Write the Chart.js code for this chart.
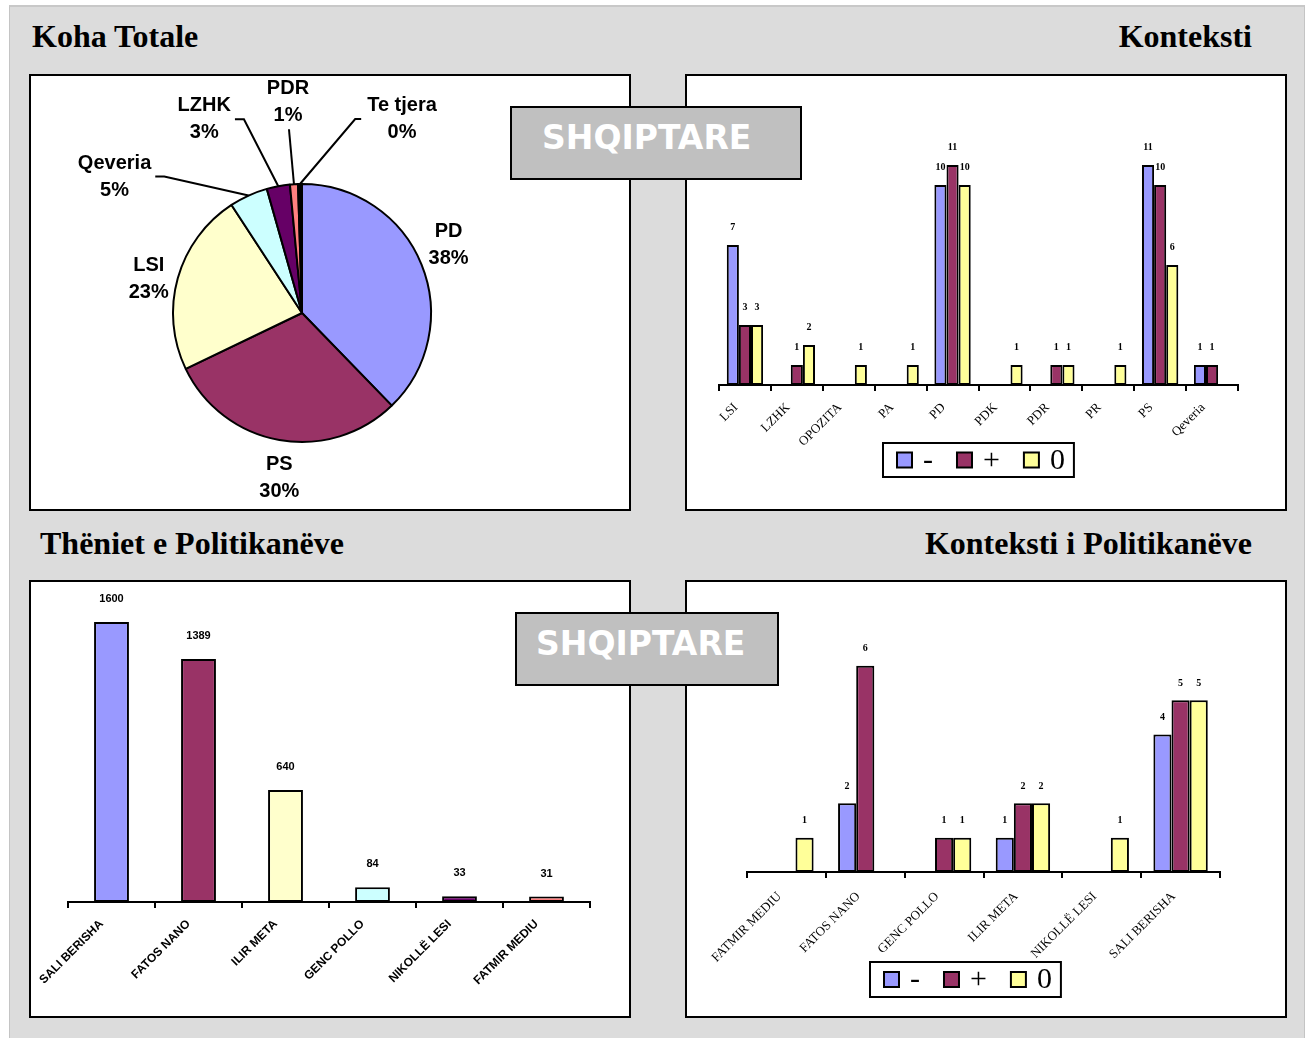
<!DOCTYPE html>
<html><head><meta charset="utf-8">
<script src="https://cdn.jsdelivr.net/npm/chart.js@4.4.1/dist/chart.umd.min.js"></script>
<style>
html,body{margin:0;padding:0;background:#fff;}
body{width:1306px;height:1038px;position:relative;overflow:hidden;}
.slide{position:absolute;left:9px;width:1294px;background:#dcdcdc;border-left:1px solid #c4c4c4;border-right:1px solid #c4c4c4;}
#s1{top:5px;height:505px;border-top:2px solid #c8c8c8;border-bottom:1px solid #c0c0c0}
#s2{top:512px;height:530px;}
.panel{position:absolute;background:#fff;border:2px solid #000;box-sizing:border-box;}
.panel canvas{position:absolute;left:0;top:0;}
.hdr{position:absolute;font:bold 32px 'Liberation Serif','Times New Roman',serif;line-height:32px;white-space:nowrap;color:#000}
.stamp{position:absolute;background:#c0c0c0;border:2px solid #000;box-sizing:border-box;z-index:5}
.stamp span{position:absolute;font:bold 33px 'DejaVu Sans',Verdana,sans-serif;line-height:33px;color:#fff;white-space:nowrap}
</style>
</head><body>
<div class="slide" id="s1"></div>
<div class="slide" id="s2"></div>

<div class="hdr" style="left:32px;top:20px">Koha Totale</div>
<div class="hdr" style="right:54px;top:20px">Konteksti</div>
<div class="hdr" style="left:40px;top:527px">Thëniet e Politikanëve</div>
<div class="hdr" style="right:54px;top:527px">Konteksti i Politikanëve</div>

<div class="panel" style="left:29px;top:74px;width:602px;height:437px"><canvas id="c1" width="598" height="433"></canvas></div>
<div class="panel" style="left:685px;top:74px;width:602px;height:437px"><canvas id="c2" width="598" height="433"></canvas></div>
<div class="panel" style="left:29px;top:580px;width:602px;height:438px"><canvas id="c3" width="598" height="434"></canvas></div>
<div class="panel" style="left:685px;top:580px;width:602px;height:438px"><canvas id="c4" width="598" height="434"></canvas></div>

<div class="stamp" style="left:510px;top:106px;width:292px;height:74px"><span style="left:30px;top:13px">SHQIPTARE</span></div>
<div class="stamp" style="left:515px;top:612px;width:264px;height:74px"><span style="left:19px;top:13px">SHQIPTARE</span></div>

<script>
// ---- Data ----
// Koha Totale (pie, share of time)
const pieLabels = ['PD','PS','LSI','Qeveria','LZHK','PDR','Te tjera'];
const pieValues = [37.7, 30.1, 22.9, 4.8, 2.9, 1.0, 0.49];

// Konteksti
const kontCats = ['LSI','LZHK','OPOZITA','PA','PD','PDK','PDR','PR','PS','Qeveria'];
const kontNeg  = [7, null, null, null, 10, null, null, null, 11, 1];
const kontPos  = [3, 1, null, null, 11, null, 1, null, 10, 1];
const kontZero = [3, 2, 1, 1, 10, 1, 1, 1, 6, null];

const seriesNames = ['-', '+', '0'];

// Thëniet e Politikanëve
const thenCats   = ['SALI BERISHA','FATOS NANO','ILIR META','GENC POLLO','NIKOLLË LESI','FATMIR MEDIU'];
const thenValues = [1600, 1389, 640, 84, 33, 31];

// Konteksti i Politikanëve
const polCats = ['FATMIR MEDIU','FATOS NANO','GENC POLLO','ILIR META','NIKOLLË LESI','SALI BERISHA'];
const polNeg  = [null, 2, null, 1, null, 4];
const polPos  = [null, 6, 1, 2, null, 5];
const polZero = [1, null, 1, 2, 1, 5];

// ---- Styles ----
const pieColors = ['#9999ff','#993366','#ffffcc','#ccffff','#660066','#ff8080','#000000'];
const seriesColors = ['#9999ff','#993366','#ffff99'];
const thenColors = ['#9999ff','#993366','#ffffcc','#ccffff','#660066','#ff8080'];
const pieLabelOffsets = [[27,-20],[0,38],[-29,1],[-134,-19],[-74,-67],[-6,-82],[102,-65]];
const pieLeader = [false,false,false,true,true,true,true];
const SERIF = '"Liberation Serif","Times New Roman",serif';
const SANS = '"Liberation Sans",Arial,sans-serif';

Chart.defaults.animation = false;
Chart.defaults.responsive = false;

const pieLabelPlugin = {
  id: 'pieLabels',
  afterDatasetsDraw(chart) {
    const ctx = chart.ctx;
    const meta = chart.getDatasetMeta(0);
    const data = chart.data.datasets[0].data;
    const total = data.reduce((a, b) => a + b, 0);
    ctx.save();
    ctx.font = 'bold 20px ' + SANS;
    ctx.textAlign = 'center'; ctx.textBaseline = 'middle';
    ctx.fillStyle = '#000'; ctx.strokeStyle = '#000'; ctx.lineWidth = 2;
    meta.data.forEach((arc, i) => {
      const p = arc.getProps(['x','y','startAngle','endAngle','outerRadius'], true);
      const mid = (p.startAngle + p.endAngle) / 2;
      const px = p.x + Math.cos(mid) * p.outerRadius;
      const py = p.y + Math.sin(mid) * p.outerRadius;
      const off = pieLabelOffsets[i];
      const lx = px + off[0], ly = py + off[1];
      const l1 = chart.data.labels[i];
      const l2 = Math.round(data[i] / total * 100) + '%';
      const w = Math.max(ctx.measureText(l1).width, ctx.measureText(l2).width);
      ctx.fillText(l1, lx, ly - 13.5);
      ctx.fillText(l2, lx, ly + 13.5);
      if (pieLeader[i]) {
        ctx.beginPath();
        if (lx < px - 20) {
          const sx = lx + w / 2 + 4;
          ctx.moveTo(sx, ly); ctx.lineTo(sx + 9, ly); ctx.lineTo(px, py);
        } else if (lx > px + 20) {
          const sx = lx - w / 2 - 6;
          ctx.moveTo(sx, ly); ctx.lineTo(sx - 6, ly); ctx.lineTo(px, py);
        } else {
          ctx.moveTo(lx + 1, ly + 27); ctx.lineTo(px, py);
        }
        ctx.stroke();
      }
    });
    ctx.restore();
  }
};

const barLabelPlugin = {
  id: 'barLabels',
  afterDatasetsDraw(chart, args, opts) {
    const ctx = chart.ctx;
    ctx.save();
    ctx.font = opts.labelFont; ctx.fillStyle = '#000';
    ctx.textAlign = 'center'; ctx.textBaseline = 'middle';
    chart.data.datasets.forEach((ds, di) => {
      const meta = chart.getDatasetMeta(di);
      meta.data.forEach((bar, i) => {
        const v = ds.data[i];
        if (v == null) return;
        ctx.fillText(String(v), bar.x, bar.y - opts.offset);
      });
    });
    ctx.restore();
  }
};

const boxLegendPlugin = {
  id: 'boxLegend',
  afterDraw(chart, args, opts) {
    if (!opts || !opts.show) return;
    const ctx = chart.ctx;
    ctx.save();
    ctx.font = opts.labelFont; ctx.textBaseline = 'middle'; ctx.textAlign = 'left';
    const items = chart.data.datasets.map(d => ({ text: d.label, color: d.backgroundColor }));
    const sq = 15, padL = 14, gapSq = 11, gapItem = 24, padR = 9;
    let w = padL;
    items.forEach((it, i) => { w += sq + gapSq + ctx.measureText(it.text).width + (i < items.length - 1 ? gapItem : padR); });
    const L = opts.left, T = opts.top, H = opts.height, cy = T + H / 2;
    ctx.lineWidth = 2; ctx.strokeStyle = '#000';
    ctx.strokeRect(L, T, w, H);
    let x = L + padL;
    items.forEach(it => {
      ctx.fillStyle = it.color;
      ctx.fillRect(x, cy - sq / 2, sq, sq);
      ctx.strokeRect(x, cy - sq / 2, sq, sq);
      x += sq + gapSq;
      ctx.fillStyle = '#000';
      ctx.fillText(it.text, x, cy + 1);
      x += ctx.measureText(it.text).width + gapItem;
    });
    ctx.restore();
  }
};

function xScale(font, axisH, labelOffset, pad) {
  return {
    offset: true,
    grid: { display: true, drawOnChartArea: false, drawTicks: true, tickLength: 6, color: '#000', lineWidth: 2, offset: true },
    border: { display: true, color: '#000', width: 2 },
    ticks: { autoSkip: false, maxRotation: 45, minRotation: 45, font: font, color: '#000', padding: pad, labelOffset: labelOffset },
    afterFit(s) { s.height = axisH; }
  };
}

// Pie
new Chart(document.getElementById('c1'), {
  type: 'pie',
  data: { labels: pieLabels, datasets: [{ data: pieValues, backgroundColor: pieColors, borderColor: '#000', borderWidth: 2 }] },
  options: {
    layout: { padding: { left: 141, right: 197, top: 107, bottom: 66 } },
    plugins: { legend: { display: false }, tooltip: { enabled: false } }
  },
  plugins: [pieLabelPlugin]
});

function groupedDatasets(a, b, c, catPct) {
  return [a, b, c].map((d, i) => ({
    label: seriesNames[i], data: d, backgroundColor: seriesColors[i],
    borderColor: '#000', borderWidth: 2, borderSkipped: false,
    categoryPercentage: catPct, barPercentage: 1.0
  }));
}

// Konteksti
new Chart(document.getElementById('c2'), {
  type: 'bar',
  data: { labels: kontCats, datasets: groupedDatasets(kontNeg, kontPos, kontZero, 0.7) },
  options: {
    layout: { padding: { left: 32, right: 47, top: 69, bottom: 24 } },
    scales: {
      x: xScale({ family: SERIF, size: 13 }, 100, -9, 9),
      y: { display: false, min: 0, max: 12 }
    },
    plugins: {
      legend: { display: false }, tooltip: { enabled: false },
      barLabels: { labelFont: 'bold 10px ' + SERIF, offset: 18 },
      boxLegend: { show: true, labelFont: '30px ' + SERIF, left: 196, top: 367, height: 34 }
    }
  },
  plugins: [barLabelPlugin, boxLegendPlugin]
});

// Thëniet e Politikanëve
new Chart(document.getElementById('c3'), {
  type: 'bar',
  data: { labels: thenCats, datasets: [{ label: 'Thëniet', data: thenValues, backgroundColor: thenColors,
    borderColor: '#000', borderWidth: 2, borderSkipped: false, categoryPercentage: 1.0, barPercentage: 0.4 }] },
  options: {
    layout: { padding: { left: 37, right: 39, top: 5, bottom: 14 } },
    scales: {
      x: xScale({ family: SANS, size: 12, weight: 'bold' }, 100, -10, 9),
      y: { display: false, min: 0, max: 1800 }
    },
    plugins: {
      legend: { display: false }, tooltip: { enabled: false },
      barLabels: { labelFont: 'bold 11px ' + SANS, offset: 23 }
    }
  },
  plugins: [barLabelPlugin]
});

// Konteksti i Politikanëve
new Chart(document.getElementById('c4'), {
  type: 'bar',
  data: { labels: polCats, datasets: groupedDatasets(polNeg, polPos, polZero, 0.69) },
  options: {
    layout: { padding: { left: 60, right: 65, top: 15, bottom: 24 } },
    scales: {
      x: xScale({ family: SERIF, size: 13 }, 120, -7, 11),
      y: { display: false, min: 0, max: 8 }
    },
    plugins: {
      legend: { display: false }, tooltip: { enabled: false },
      barLabels: { labelFont: 'bold 10px ' + SERIF, offset: 17 },
      boxLegend: { show: true, labelFont: '30px ' + SERIF, left: 183, top: 380, height: 35 }
    }
  },
  plugins: [barLabelPlugin, boxLegendPlugin]
});
</script>
</body></html>
